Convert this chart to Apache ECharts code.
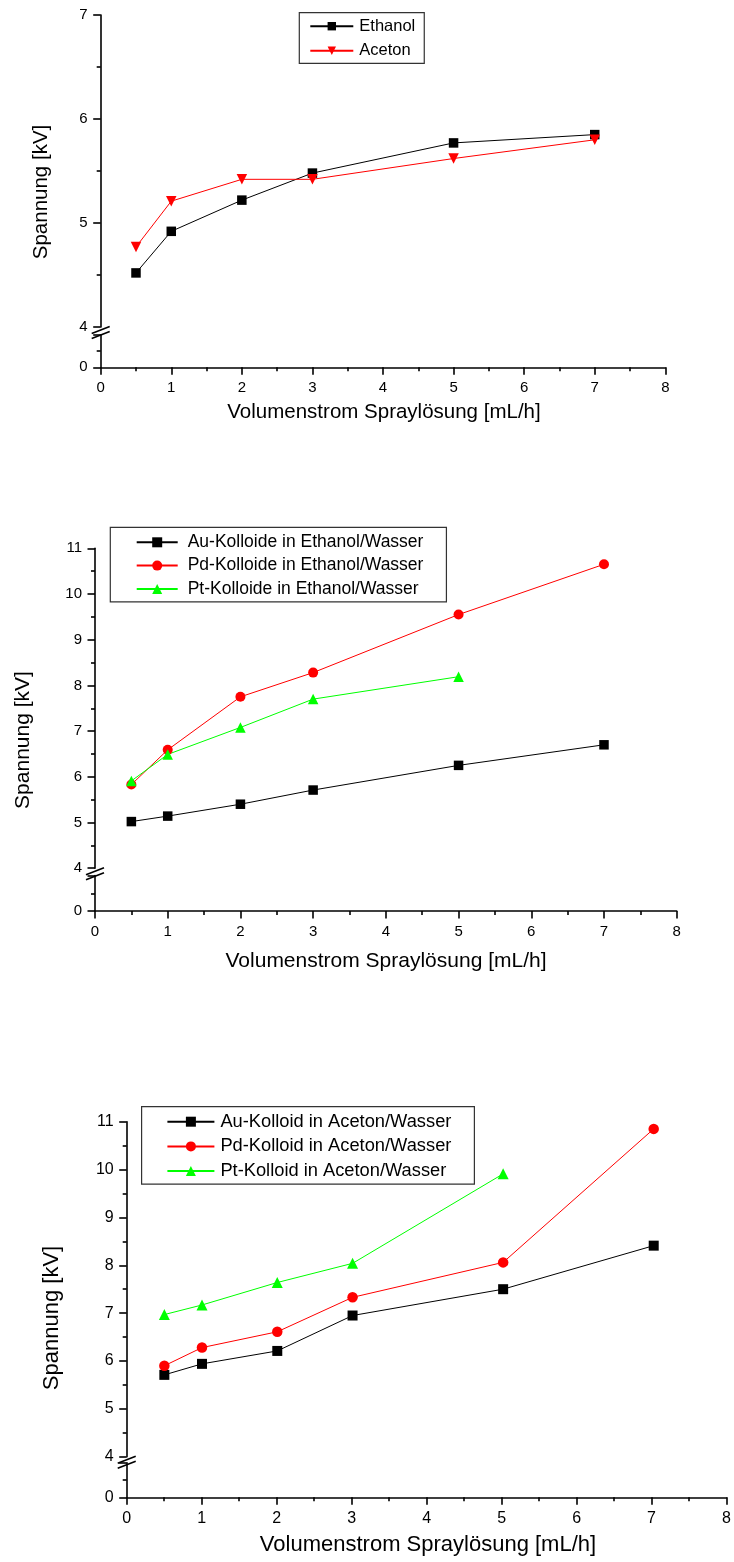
<!DOCTYPE html>
<html>
<head>
<meta charset="utf-8">
<script src="https://cdn.jsdelivr.net/npm/echarts@6/dist/echarts.min.js"></script>
<style>
  html, body { margin: 0; padding: 0; background: #fff; }
  #chart { width: 734px; height: 1562px; }
</style>
</head>
<body>
<div id="chart"></div>
<script>
/* Spannung vs. Volumenstrom - three stacked panels, each with a broken y axis (0 | 4..max) */

// x values (mL/h)
const FLOW    = [0.5, 1, 2, 3, 5, 7];
const FLOW_PT = [0.5, 1, 2, 3, 5];

// panel 1: pure solvents
const ETHANOL = [4.52, 4.92, 5.22, 5.48, 5.77, 5.85];
const ACETON  = [4.77, 5.21, 5.42, 5.42, 5.62, 5.80];

// panel 2: colloids in ethanol/water
const AU_ETH = [5.02, 5.14, 5.40, 5.71, 6.25, 6.70];
const PD_ETH = [5.83, 6.59, 7.75, 8.28, 9.55, 10.65];
const PT_ETH = [5.91, 6.49, 7.08, 7.70, 8.19];

// panel 3: colloids in acetone/water
const AU_ACE = [5.71, 5.94, 6.21, 6.95, 7.50, 8.41];
const PD_ACE = [5.90, 6.28, 6.61, 7.33, 8.06, 10.85];
const PT_ACE = [6.97, 7.17, 7.64, 8.04, 9.91];

// axis ranges
const X_MIN = 0, X_MAX = 8;
const Y_BREAK = 4;
const Y_MAX = [7, 11, 11];

const Y_TITLE = "Spannung [kV]";
const X_TITLE = "Volumenstrom Spraylösung [mL/h]";

const FONT = "Arial, 'Liberation Sans', Helvetica, sans-serif";
const BLACK = "#000000", RED = "#ff0000", GREEN = "#00ff00";
const TRI_DOWN = "path://M0,0 L10,0 L5,9 Z";

function pts(xs, ys) { return xs.map((x, i) => [x, ys[i]]); }

const PANELS = [
  {
    left: 100.7, right: 665.3, upTop: 15, upBot: 327, loTop: 334.7, loBot: 367.3,
    tickFont: 15, titleFont: 20.5, yTitle: [41, 192], xTitle: [384, 412],
    legend: { left: 299.3, top: 12.7, pad: [5, 9, 4, 10], w: 43, h: 10.5, gap: 7.6, font: 16.5, lh: 16, tp: 1 },
    series: [
      { name: "Ethanol", data: pts(FLOW, ETHANOL), color: BLACK, symbol: "rect", size: 9.5 },
      { name: "Aceton",  data: pts(FLOW, ACETON),  color: RED,   symbol: TRI_DOWN, size: 10.5 }
    ]
  },
  {
    left: 95, right: 676.7, upTop: 548.3, upBot: 868.2, loTop: 875.6, loBot: 911,
    tickFont: 15, titleFont: 21, yTitle: [23.4, 740], xTitle: [386, 961],
    legend: { left: 110.3, top: 527.3, pad: [6, 23, 4, 25.4], w: 41, h: 12.5, gap: 5.3, font: 17.5, lh: 18, tp: 5 },
    series: [
      { name: "Au-Kolloide in Ethanol/Wasser", data: pts(FLOW, AU_ETH),    color: BLACK, symbol: "rect",     size: 9.5 },
      { name: "Pd-Kolloide in Ethanol/Wasser", data: pts(FLOW, PD_ETH),    color: RED,   symbol: "circle",   size: 10 },
      { name: "Pt-Kolloide in Ethanol/Wasser", data: pts(FLOW_PT, PT_ETH), color: GREEN, symbol: "triangle", size: 10.5 }
    ]
  },
  {
    left: 126.7, right: 729, upTop: 1121.7, upBot: 1456.7, loTop: 1462.7, loBot: 1497.3,
    tickFont: 16, titleFont: 22, yTitle: [51.6, 1318], xTitle: [428, 1545],
    legend: { left: 141.6, top: 1106.7, pad: [6, 23, 4, 24.8], w: 47, h: 12.5, gap: 6.7, font: 18.3, lh: 18, tp: 1 },
    series: [
      { name: "Au-Kolloid in Aceton/Wasser", data: pts(FLOW, AU_ACE),    color: BLACK, symbol: "rect",     size: 10 },
      { name: "Pd-Kolloid in Aceton/Wasser", data: pts(FLOW, PD_ACE),    color: RED,   symbol: "circle",   size: 10.5 },
      { name: "Pt-Kolloid in Aceton/Wasser", data: pts(FLOW_PT, PT_ACE), color: GREEN, symbol: "triangle", size: 11 }
    ]
  }
];

const LINE = { color: BLACK, width: 1.6 };

function axisBase(fontSize) {
  return {
    axisLine: { show: true, onZero: false, lineStyle: LINE },
    axisTick: { show: true, inside: false, length: 7.5, lineStyle: LINE },
    minorTick: { show: true, splitNumber: 2, length: 4, lineStyle: LINE },
    splitLine: { show: false },
    minorSplitLine: { show: false },
    axisLabel: { color: BLACK, fontSize: fontSize, fontFamily: FONT, margin: 13 }
  };
}

const option = {
  animation: false,
  backgroundColor: "#ffffff",
  grid: [], xAxis: [], yAxis: [], series: [], legend: [], graphic: []
};

PANELS.forEach((p, i) => {
  const gUp = option.grid.length;
  option.grid.push({ left: p.left, top: p.upTop, width: p.right - p.left, height: p.upBot - p.upTop });
  option.grid.push({ left: p.left, top: p.loTop, width: p.right - p.left, height: p.loBot - p.loTop });

  // upper part: hidden x axis, y from break to max
  option.xAxis.push({ type: "value", gridIndex: gUp, min: X_MIN, max: X_MAX, interval: 1, show: false });
  option.yAxis.push(Object.assign(axisBase(p.tickFont), {
    type: "value", gridIndex: gUp, min: Y_BREAK, max: Y_MAX[i], interval: 1
  }));

  // lower part: the real x axis, y stub showing only 0
  option.xAxis.push(Object.assign(axisBase(p.tickFont), {
    type: "value", gridIndex: gUp + 1, min: X_MIN, max: X_MAX, interval: 1
  }));
  option.yAxis.push(Object.assign(axisBase(p.tickFont), {
    type: "value", gridIndex: gUp + 1, min: 0, max: 2, interval: 2
  }));
  option.yAxis[gUp + 1].axisLabel.formatter = v => (v === 0 ? "0" : "");

  p.series.forEach(s => {
    option.series.push({
      name: s.name, type: "line", xAxisIndex: gUp, yAxisIndex: gUp,
      data: s.data, symbol: s.symbol, symbolSize: s.size, showSymbol: true,
      lineStyle: { color: s.color, width: 1 },
      itemStyle: { color: s.color, borderWidth: 0 },
      emphasis: { disabled: true }, silent: true
    });
  });

  const L = p.legend;
  option.legend.push({
    orient: "vertical", left: L.left, top: L.top, padding: L.pad,
    itemWidth: L.w, itemHeight: L.h, itemGap: L.gap,
    borderColor: "#333333", borderWidth: 1.2, backgroundColor: "#ffffff",
    selectedMode: false,
    textStyle: { color: BLACK, fontSize: L.font, fontFamily: FONT, lineHeight: L.lh, padding: [0, 0, 0, L.tp] },
    data: p.series.map(s => s.name)
  });

  option.graphic.push({
    type: "text", x: p.yTitle[0], y: p.yTitle[1], rotation: Math.PI / 2, silent: true,
    style: { text: Y_TITLE, fill: BLACK, font: p.titleFont + "px " + FONT, align: "center", verticalAlign: "middle" }
  });
  option.graphic.push({
    type: "text", x: p.xTitle[0], y: p.xTitle[1], silent: true,
    style: { text: X_TITLE, fill: BLACK, font: p.titleFont + "px " + FONT, align: "center", verticalAlign: "middle" }
  });
});

const chart = echarts.init(document.getElementById("chart"), null, { renderer: "canvas" });
chart.setOption(option);

// axis-break slashes, placed from the axis scales
const breaks = [];
PANELS.forEach((p, i) => {
  const gUp = i * 2;
  const ax = chart.convertToPixel({ xAxisIndex: gUp + 1 }, X_MIN);
  const yb = chart.convertToPixel({ yAxisIndex: gUp }, Y_BREAK);
  [3, 8].forEach(off => {
    breaks.push({
      type: "line", silent: true, z: 100,
      shape: { x1: ax - 9, y1: yb + off + 3.5, x2: ax + 9, y2: yb + off - 3.5 },
      style: { stroke: BLACK, lineWidth: 1.6 }
    });
  });
});
chart.setOption({ graphic: option.graphic.concat(breaks) });
</script>
</body>
</html>
